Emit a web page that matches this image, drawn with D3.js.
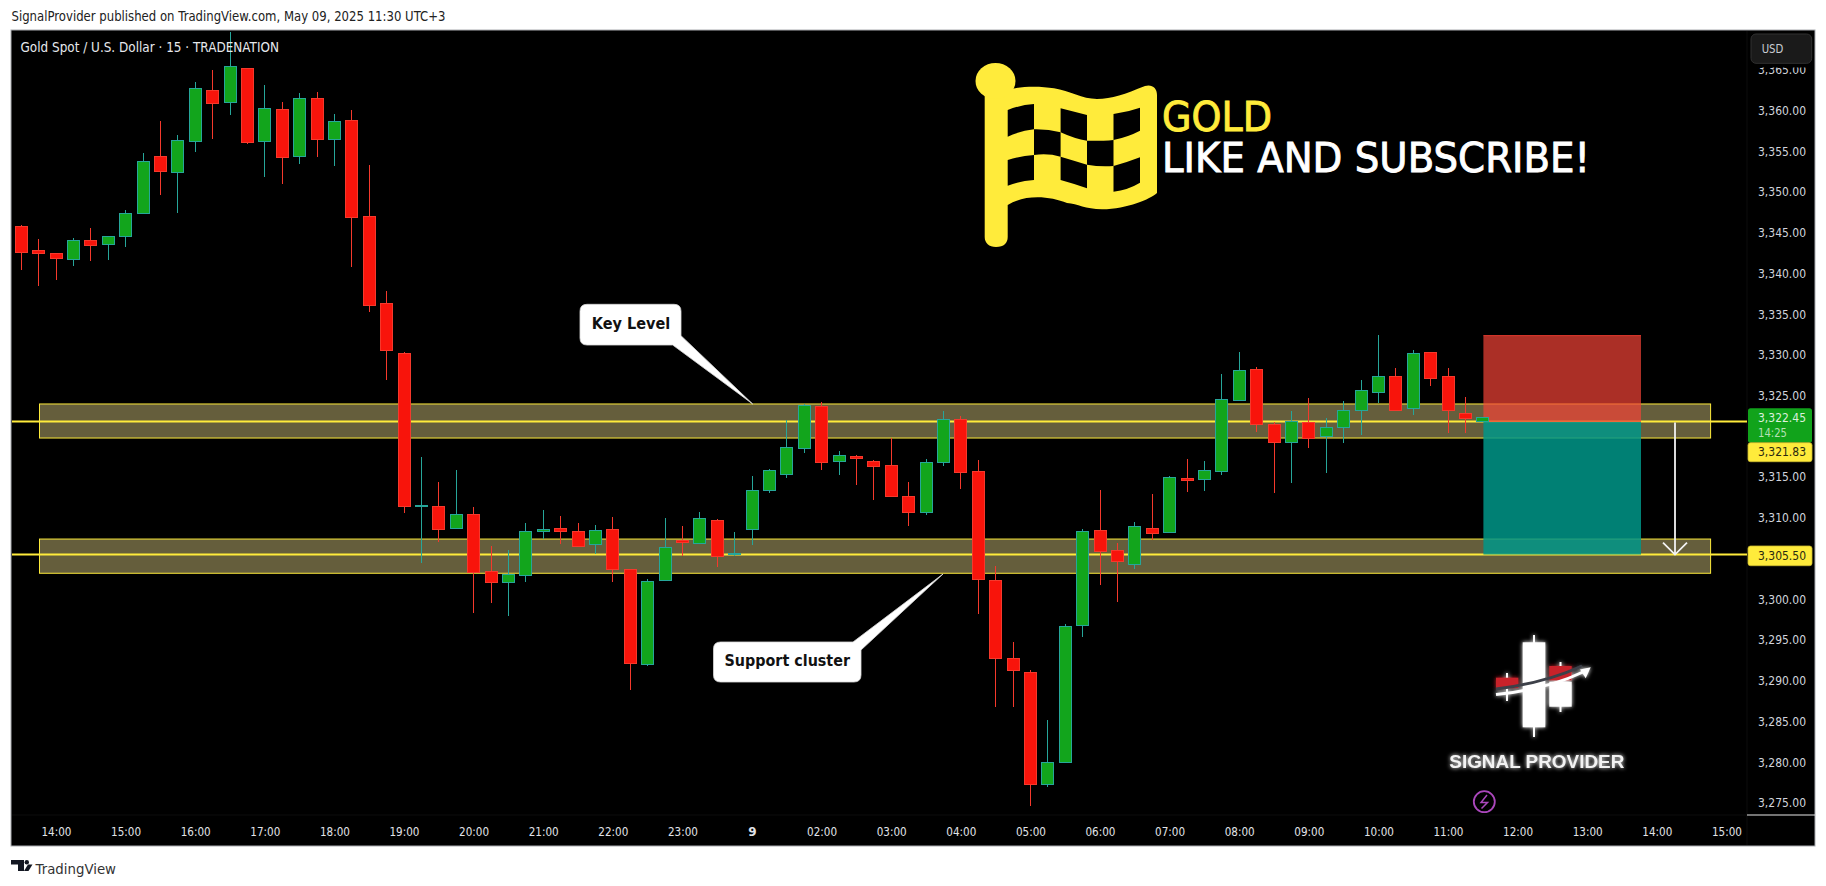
<!DOCTYPE html>
<html><head><meta charset="utf-8">
<script src="https://cdn.jsdelivr.net/npm/d3@7/dist/d3.min.js"></script>
<style>html,body{margin:0;padding:0;background:#fff}svg{display:block}</style>
</head><body><svg id="c" width="1826" height="886"></svg>
<script>
const opens=[3345.72,3342.77,3342.41,3341.75,3344.00,3343.59,3344.58,3347.40,3354.32,3352.44,3356.25,3362.43,3361.04,3365.13,3356.25,3360.10,3354.40,3361.45,3356.49,3358.74,3346.95,3336.26,3330.12,3311.45,3311.45,3308.71,3310.47,3303.46,3302.07,3302.93,3308.34,3308.75,3308.38,3306.78,3308.62,3303.71,3291.99,3302.31,3307.19,3306.90,3309.73,3305.47,3308.58,3313.37,3315.34,3318.53,3323.73,3316.93,3317.59,3316.97,3316.48,3312.67,3310.67,3316.81,3322.13,3315.75,3302.36,3292.77,3291.05,3277.25,3279.96,3296.79,3308.50,3306.04,3304.28,3308.74,3308.21,3314.89,3314.72,3315.71,3324.43,3328.16,3321.40,3319.27,3321.65,3319.93,3321.15,3323.24,3325.33,3327.30,3323.37,3330.24,3327.30,3322.87,3321.89];
const closes=[3342.61,3342.49,3341.87,3344.00,3343.47,3344.49,3347.32,3353.71,3352.56,3356.29,3362.68,3360.91,3365.38,3356.12,3360.22,3354.28,3361.45,3356.49,3358.62,3346.91,3336.10,3330.57,3311.45,3311.57,3308.58,3310.47,3303.34,3302.07,3303.10,3308.38,3308.62,3308.34,3306.54,3308.50,3303.67,3292.12,3302.23,3306.41,3306.98,3309.97,3305.26,3305.59,3313.41,3315.87,3318.69,3323.85,3316.81,3317.71,3317.30,3316.32,3312.63,3310.67,3316.85,3322.13,3315.58,3302.44,3292.73,3291.26,3277.25,3280.00,3296.70,3308.37,3305.88,3304.69,3308.99,3308.09,3315.01,3314.60,3315.87,3324.59,3328.03,3321.52,3319.27,3321.77,3319.76,3321.15,3323.24,3325.58,3327.30,3323.24,3330.12,3327.13,3323.24,3322.14,3322.38];
const highs=[3345.89,3344.29,3342.41,3344.41,3345.60,3344.66,3347.73,3354.81,3358.66,3356.94,3363.54,3364.93,3369.64,3365.26,3363.17,3361.08,3362.10,3362.31,3359.60,3360.10,3353.26,3337.90,3330.37,3317.51,3314.40,3315.87,3311.33,3306.54,3306.04,3309.36,3310.96,3310.22,3309.36,3309.12,3310.10,3303.71,3302.52,3309.97,3309.03,3310.71,3309.89,3308.29,3315.17,3315.99,3322.01,3324.02,3324.26,3318.20,3317.75,3317.10,3319.80,3314.39,3317.22,3323.16,3322.54,3317.10,3304.07,3294.74,3291.30,3285.20,3296.95,3308.62,3313.41,3306.90,3309.48,3312.92,3315.17,3317.22,3316.97,3327.71,3330.41,3328.53,3321.77,3323.12,3324.72,3322.26,3324.35,3326.93,3332.50,3328.40,3330.61,3330.37,3328.40,3324.84,3322.38];
const lows=[3340.48,3338.43,3339.25,3340.89,3341.50,3341.63,3343.22,3347.40,3349.61,3347.40,3354.89,3356.49,3359.44,3355.88,3351.82,3350.96,3353.42,3354.28,3353.17,3340.77,3335.24,3326.89,3310.55,3304.41,3307.03,3308.58,3298.35,3299.61,3297.90,3302.07,3307.44,3306.74,3306.54,3305.59,3302.07,3288.88,3291.87,3302.31,3305.26,3306.74,3304.03,3305.26,3306.61,3313.00,3314.84,3317.92,3315.83,3315.21,3313.98,3312.14,3312.51,3308.95,3310.30,3316.32,3313.49,3298.26,3286.83,3286.83,3274.67,3277.01,3279.96,3295.43,3301.70,3299.73,3303.75,3307.27,3308.21,3313.12,3313.25,3315.22,3324.31,3320.50,3313.01,3314.23,3318.53,3315.46,3319.15,3320.21,3324.14,3323.12,3322.67,3326.15,3320.38,3320.38,3321.89];
const timeLabels=["14:00","15:00","16:00","17:00","18:00","19:00","20:00","21:00","22:00","23:00","9","02:00","03:00","04:00","05:00","06:00","07:00","08:00","09:00","10:00","11:00","12:00","13:00","14:00","15:00"];
const timeTickIndex=[2,6,10,14,18,22,26,30,34,38,42,46,50,54,58,62,66,70,74,78,82,86,90,94,98];
const priceTicks=[3365,3360,3355,3350,3345,3340,3335,3330,3325,3315,3310,3300,3295,3290,3285,3280,3275];
const zonePrices=[[3323.98,3319.80],[3307.40,3303.20]];
const levelPrices=[3321.83,3305.50];
const currentPrice=3322.45, stopPrice=3332.37, entryPrice=3321.83, targetPrice=3305.50;

const svg=d3.select("#c");
const FONT="'DejaVu Sans',sans-serif";
const panel={l:11,r:1815,t:30,b:846}, plotR=1747, plotB=815;
const x=d3.scaleLinear().domain([0,84]).range([21.2,1482.8]);
const y=d3.scaleLinear().domain([3275,3365]).range([803,69.8]);
const defs=svg.append("defs");
const glow=defs.append("filter").attr("id","glow").attr("x","-30%").attr("y","-30%").attr("width","160%").attr("height","160%");
glow.append("feGaussianBlur").attr("stdDeviation",2.2).attr("result","b");
const m=glow.append("feMerge");m.append("feMergeNode").attr("in","b");m.append("feMergeNode").attr("in","SourceGraphic");

function txt(t,px,py,o={}){
  const e=svg.append("text").attr("x",px).attr("y",py).text(t)
   .attr("font-family",o.font||FONT).attr("font-size",o.size||12).attr("fill",o.fill||"#d1d4dc")
   .attr("font-weight",o.weight||"normal").attr("text-anchor",o.anchor||"start");
  if(o.len) e.attr("textLength",o.len).attr("lengthAdjust","spacingAndGlyphs");
  if(o.stroke) e.attr("stroke",o.fill).attr("stroke-width",o.stroke);
  return e;
}
// page header / footer
txt("SignalProvider published on TradingView.com, May 09, 2025 11:30 UTC+3",11.5,21,{size:13.5,fill:"#222",len:434});
svg.append("path").attr("fill","#131722").attr("d","M11 860H24V871H18V864.5H11Z");
svg.append("circle").attr("cx",26.8).attr("cy",862.2).attr("r",2.2).attr("fill","#131722");
svg.append("path").attr("fill","#131722").attr("d","M28 864.5H32.5L28.5 871H24Z");
txt("TradingView",35.5,873.5,{size:14,fill:"#333",len:80.5});

// panel
svg.append("rect").attr("x",panel.l).attr("y",panel.t).attr("width",panel.r-panel.l).attr("height",panel.b-panel.t)
  .attr("fill","#000").attr("stroke","#a9abb0").attr("stroke-width",1);
svg.append("line").attr("x1",plotR).attr("x2",plotR).attr("y1",panel.t+1).attr("y2",panel.b-1).attr("stroke","#0c0c0c");
svg.append("line").attr("x1",panel.l+1).attr("x2",plotR).attr("y1",plotB).attr("y2",plotB).attr("stroke","#0c0c0c");
svg.append("line").attr("x1",plotR).attr("x2",panel.r).attr("y1",plotB).attr("y2",plotB).attr("stroke","#e6e6e6");

// zones
const zoneL=39.5, zoneR=1710.6;
svg.append("g").selectAll("rect").data(zonePrices).join("rect")
  .attr("x",zoneL).attr("width",zoneR-zoneL)
  .attr("y",d=>y(d[0])).attr("height",d=>y(d[1])-y(d[0]))
  .attr("fill","#655e3c").attr("stroke","#fdeb3b").attr("stroke-width",1);
// level lines
svg.append("g").selectAll("line").data(levelPrices).join("line")
  .attr("x1",panel.l+1).attr("x2",plotR).attr("y1",d=>y(d)).attr("y2",d=>y(d))
  .attr("stroke","#ffeb3b").attr("stroke-width",2);

// position box
const boxL=1483.4, boxR=1641;
svg.append("rect").attr("x",boxL).attr("width",boxR-boxL).attr("y",y(stopPrice)).attr("height",y(entryPrice)-y(stopPrice))
  .attr("fill","#f44336").attr("fill-opacity",0.7);
svg.append("line").attr("x1",boxL).attr("x2",boxR).attr("y1",y(stopPrice)).attr("y2",y(stopPrice)).attr("stroke","#e53a2e");
svg.append("rect").attr("x",boxL).attr("width",boxR-boxL).attr("y",y(entryPrice)).attr("height",y(targetPrice)-y(entryPrice))
  .attr("fill","#009688").attr("fill-opacity",0.85);
svg.append("line").attr("x1",boxL).attr("x2",boxR).attr("y1",y(entryPrice)).attr("y2",y(entryPrice)).attr("stroke","#ef6a3c").attr("stroke-width",1);
// arrow
const arrowX=1675;
svg.append("path").attr("fill","none").attr("stroke","#f2f2f2").attr("stroke-width",1.8)
  .attr("d",`M${arrowX} ${y(entryPrice)+1}V${y(targetPrice)}M${arrowX-12} ${y(targetPrice)-12}L${arrowX} ${y(targetPrice)}L${arrowX+12} ${y(targetPrice)-12}`);

// candles
const idx=d3.range(opens.length);
const up=i=>closes[i]>=opens[i];
const gc=svg.append("g").attr("shape-rendering","crispEdges");
gc.selectAll("line").data(idx).join("line")
  .attr("x1",i=>x(i)).attr("x2",i=>x(i)).attr("y1",i=>y(highs[i])).attr("y2",i=>y(lows[i]))
  .attr("stroke",i=>up(i)?"#26a69a":"#f5392c").attr("stroke-width",1);
gc.selectAll("rect").data(idx).join("rect")
  .attr("x",i=>x(i)-6).attr("width",12)
  .attr("y",i=>y(Math.max(opens[i],closes[i])))
  .attr("height",i=>Math.max(1,Math.abs(y(opens[i])-y(closes[i]))))
  .attr("fill",i=>up(i)?"#12a51c":"#f8140b").attr("stroke",i=>up(i)?"#26a69a":"#f5392c").attr("stroke-width",1);

// price axis
const ax=svg.append("g").attr("transform",`translate(${plotR},0)`)
  .call(d3.axisRight(y).tickValues(priceTicks).tickFormat(d3.format(",.2f")).tickSize(0).tickPadding(11));
ax.select(".domain").remove();
ax.selectAll("text").attr("font-family",FONT).attr("font-size",12).attr("fill","#d1d4dc")
  .attr("textLength",48).attr("lengthAdjust","spacingAndGlyphs");
// time axis
const at=svg.append("g").attr("transform",`translate(0,${plotB})`)
  .call(d3.axisBottom(x).tickValues(timeTickIndex).tickFormat((d,i)=>timeLabels[i]).tickSize(0).tickPadding(12));
at.select(".domain").remove();
at.selectAll("text").attr("font-family",FONT).attr("font-size",12).attr("fill","#e0e3e8")
  .attr("font-weight",(d,i)=>timeLabels[i]==="9"?"bold":"normal")
  .each(function(d,i){ if(timeLabels[i]!=="9") d3.select(this).attr("textLength",30).attr("lengthAdjust","spacingAndGlyphs"); });

// price labels
function plabel(top,h,fill,stroke){svg.append("rect").attr("x",1748).attr("y",top).attr("width",64).attr("height",h).attr("rx",2.5).attr("fill",fill).attr("stroke",stroke||"none").attr("stroke-width",0.8);}
plabel(408.3,34.4,"#11a31b");
txt(d3.format(",.2f")(currentPrice),1758,421.7,{size:12,fill:"#dcefdc",len:48});
txt("14:25",1758,436.7,{size:12,fill:"#b5e0b5",len:29});
plabel(442.7,19,"#ffeb3b","#c9b92e");
txt(d3.format(",.2f")(levelPrices[0]),1758,456.1,{size:12,fill:"#2a2a10",len:48});
plabel(546,19.7,"#ffeb3b","#c9b92e");
txt(d3.format(",.2f")(levelPrices[1]),1758,559.7,{size:12,fill:"#2a2a10",len:48});

// USD button over the top of the axis
svg.append("rect").attr("x",1748).attr("y",31).attr("width",66).attr("height",36.5).attr("fill","#000");
svg.append("rect").attr("x",1751).attr("y",34).attr("width",60.7).attr("height",29.3).attr("rx",5).attr("fill","#1a1a1a").attr("stroke","#303030");
txt("USD",1761.7,52.7,{size:12,fill:"#c8cbd2",len:21.7});

// title
txt("Gold Spot / U.S. Dollar · 15 · TRADENATION",20.5,52,{size:13.5,fill:"#e6e8ec",len:258.5});

// callouts
svg.append("path").attr("fill","#fff").attr("stroke","#d8d8d8").attr("stroke-width",0.8)
  .attr("d","M587 304.3H674Q681 304.3 681 311.3V335.7L752.7 404L672.7 345H587Q580 345 580 338V311.3Q580 304.3 587 304.3Z");
txt("Key Level",591.7,329.3,{size:15.5,fill:"#111",weight:"bold",len:78.5});
svg.append("path").attr("fill","#fff").attr("stroke","#d8d8d8").attr("stroke-width",0.8)
  .attr("d","M720.5 642H853L943 574L861 650V675Q861 682 854 682H720.5Q713.5 682 713.5 675V649Q713.5 642 720.5 642Z");
txt("Support cluster",724.5,666,{size:15.5,fill:"#111",weight:"bold",len:125.5});

// flag logo
const Y="#ffeb3b";
svg.append("path").attr("fill",Y)
 .attr("d","M1007.7 90C1020 86 1040 86 1054 88.3C1070 91 1082 99 1097 99C1112 99 1125 94 1145 86C1152 84 1157 88 1157 95V193C1150 199 1128 209 1102 209.3C1085 209 1078 204 1067 203C1050 196 1025 194 1007.7 205V237C1007.7 243 1004 247 996 247C989 247 984.7 243 984.7 237V90Z");
svg.append("ellipse").attr("cx",995.5).attr("cy",81).attr("rx",20).attr("ry",18).attr("fill",Y);
const flagCells=[
 "M1007.7 110Q1020 105 1034 104V129.3Q1020 131 1007.7 136.7Z",
 "M1060.6 108.3Q1075 112 1087 115V140.7Q1075 139 1060.6 132.3Z",
 "M1113.5 114Q1128 112 1140 107.7V130.7Q1128 137 1113.5 140Z",
 "M1034 129.3Q1048 129 1060.6 132.3V156.7Q1048 153 1034 155Z",
 "M1087 140.7H1100Q1108 141 1113.5 140V166Q1100 167 1087 164.7Z",
 "M1007.7 160Q1020 156 1034 155V180Q1020 181 1007.7 185.7Z",
 "M1060.6 156.7Q1075 161 1087 164.7V188.3Q1075 184 1060.6 180Z",
 "M1113.5 166Q1128 162 1140 157.3V182.7Q1128 190 1113.5 191.7Z"];
svg.append("g").selectAll("path").data(flagCells).join("path").attr("d",d=>d).attr("fill","#000");
txt("GOLD",1162,130.7,{size:41,fill:Y,len:110,stroke:0.9});
txt("LIKE AND SUBSCRIBE!",1162,172,{size:40,fill:"#fff",len:428,stroke:0.9});

// signal provider logo
const lg=svg.append("g").attr("filter","url(#glow)");
lg.append("path").attr("stroke","#fff").attr("stroke-width",2).attr("d","M1534 635V737M1507 673V701M1560.5 662V712");
lg.append("rect").attr("x",1522.7).attr("y",642.3).attr("width",22.6).attr("height",85).attr("fill","#fff");
lg.append("rect").attr("x",1496).attr("y",677.7).attr("width",22.3).attr("height",10.5).attr("fill","#c8202c");
lg.append("rect").attr("x",1549.3).attr("y",666).attr("width",22.4).attr("height",14.5).attr("fill","#c8202c");
lg.append("rect").attr("x",1549.3).attr("y",681.7).attr("width",22.4).attr("height",25).attr("fill","#fff");
lg.append("path").attr("fill","none").attr("stroke","#3c4048").attr("stroke-width",3).attr("d","M1496 689Q1545 683 1582 666");
lg.append("path").attr("fill","none").attr("stroke","#fff").attr("stroke-width",3).attr("d","M1496 694.5Q1548 689 1583 672");
lg.append("path").attr("fill","#fff").attr("d","M1590.7 667.3L1580 669.5L1585.7 678.3Z");
txt("SIGNAL PROVIDER",1449.3,767.7,{font:"'Liberation Sans',sans-serif",size:17.7,fill:"#f2f2f2",weight:"bold",len:175}).attr("filter","url(#glow)");
// bolt icon
svg.append("circle").attr("cx",1484.3).attr("cy",801.7).attr("r",10.5).attr("fill","none").attr("stroke","#ab47bc").attr("stroke-width",1.8);
svg.append("path").attr("fill","none").attr("stroke","#ab47bc").attr("stroke-width",1.5).attr("d","M1487 795L1481 802.5H1487.5L1481.5 808.5");
</script></body></html>
